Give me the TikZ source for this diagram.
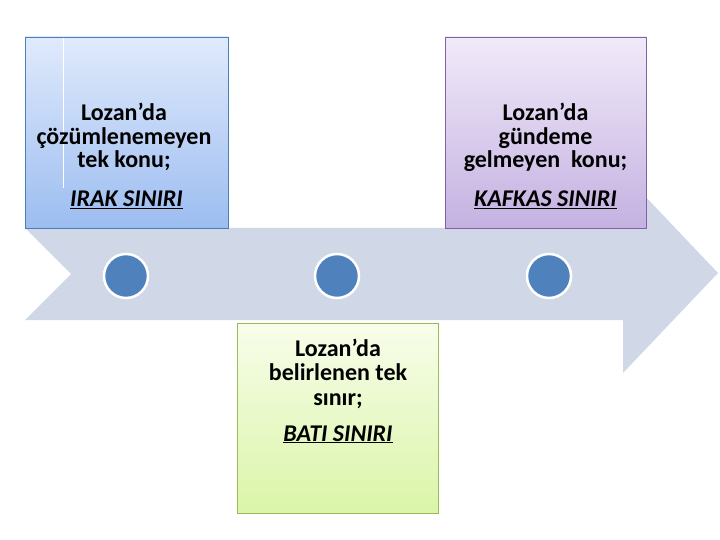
\documentclass[tikz,border=0pt]{standalone}
\usepackage{fontspec}
\setmainfont{Carlito}
\definecolor{arrowc}{RGB}{208,216,232}
\definecolor{dotc}{RGB}{79,129,189}
\definecolor{blueD}{RGB}{74,126,187}
\definecolor{blueT}{RGB}{224,234,252}
\definecolor{blueB}{RGB}{156,189,240}
\definecolor{purD}{RGB}{128,100,162}
\definecolor{purT}{RGB}{241,234,249}
\definecolor{purB}{RGB}{196,177,225}
\definecolor{grnD}{RGB}{155,187,89}
\definecolor{grnT}{RGB}{248,253,234}
\definecolor{grnB}{RGB}{218,245,168}
\begin{document}
\begin{tikzpicture}[x=1pt,y=-1pt,
  txt/.style={anchor=base, font=\fontsize{24}{24}\selectfont\bfseries, inner sep=0pt, text=black},
  lbl/.style={anchor=base, font=\fontsize{24}{24}\selectfont\bfseries\itshape, inner sep=0pt, text=black},
  dot/.style={circle, fill=dotc, draw=white, line width=2.5pt, minimum size=44pt, inner sep=0pt}]
\useasboundingbox (0,0) rectangle (720,540);
\fill[white] (0,0) rectangle (720,540);
% arrow
\fill[arrowc] (25,228) -- (623,228) -- (623,173) -- (718,273) -- (623,373) -- (623,320) -- (25,320) -- (71,274) -- cycle;
% circles
\node[dot] (c1) at (126,276) {};
\node[dot] (c2) at (337,276) {};
\node[dot] (c3) at (549,276) {};
% boxes
\path[draw=blueD, top color=blueT, bottom color=blueB, line width=0.6pt] (25,37) rectangle (228,228);
\draw[white, line width=1pt] (63,38) -- (63,188);
\path[draw=purD, top color=purT, bottom color=purB, line width=0.6pt] (445,37) rectangle (646,228);
\path[draw=grnD, top color=grnT, bottom color=grnB, line width=0.6pt] (237,323) rectangle (438,513);
% texts: blue box
\node[txt] (t1a) at (124,121) {Lozan’da};
\node[txt] (t1b) at (124,144.3) {çözümlenemeyen};
\node[txt] (t1c) at (124,167.6) {tek konu;};
\node[lbl] (l1) at (126.5,207) {\underline{IRAK SINIRI}};
% purple box
\node[txt] (t3a) at (545.5,121) {Lozan’da};
\node[txt] (t3b) at (545.5,144.5) {gündeme};
\node[txt] (t3c) at (545.5,168) {gelmeyen\ \ konu;};
\node[lbl] (l3) at (545.5,207) {\underline{KAFKAS SINIRI}};
% green box
\node[txt] (t2a) at (338,356) {Lozan’da};
\node[txt] (t2b) at (338,380.5) {belirlenen tek};
\node[txt] (t2c) at (338,405) {sınır;};
\node[lbl] (l2) at (338,441) {\underline{BATI SINIRI}};
\end{tikzpicture}
\end{document}
